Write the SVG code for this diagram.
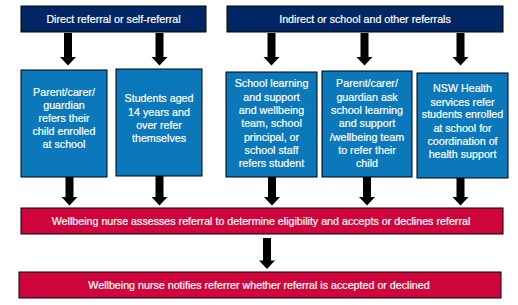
<svg xmlns="http://www.w3.org/2000/svg" width="518" height="305" viewBox="0 0 518 305">
<style>
.hdr{fill:#002664;stroke:#000;stroke-width:1}
.box{fill:#0a78ba;stroke:#000;stroke-width:1}
.red{fill:#d0043c;stroke:#000;stroke-width:1}
text{font-family:"Liberation Sans",Arial,sans-serif;fill:#fff;stroke:#fff;stroke-width:0.2;text-anchor:middle;font-size:10.7px}
.arr{fill:#000}
</style>
<rect width="518" height="305" fill="#fff"/>
<g id="h1"><rect class="hdr" x="21" y="6" width="185" height="26"/><text x="113.5" y="23">Direct referral or self-referral</text></g>
<g id="h2"><rect class="hdr" x="227" y="6" width="276" height="26"/><text x="365" y="23">Indirect or school and other referrals</text></g>
<g id="b1"><rect class="box" x="21" y="70" width="86" height="107"/>
<text x="64" y="96">Parent/carer/</text><text x="64" y="109">guardian</text><text x="64" y="122">refers their</text><text x="64" y="135">child enrolled</text><text x="64" y="148">at school</text></g>
<g id="b2"><rect class="box" x="116" y="69" width="86" height="107"/>
<text x="159" y="102">Students aged</text><text x="159" y="115.5">14 years and</text><text x="159" y="129">over refer</text><text x="159" y="142">themselves</text></g>
<g id="b3"><rect class="box" x="226" y="72" width="91" height="105"/>
<text x="271.5" y="87">School learning</text><text x="271.5" y="100.5">and support</text><text x="271.5" y="114">and wellbeing</text><text x="271.5" y="127">team, school</text><text x="271.5" y="140.5">principal, or</text><text x="271.5" y="154">school staff</text><text x="271.5" y="167">refers student</text></g>
<g id="b4"><rect class="box" x="322" y="71" width="90" height="106"/>
<text x="367" y="87">Parent/carer/</text><text x="367" y="100.5">guardian ask</text><text x="367" y="114">school learning</text><text x="367" y="127">and support</text><text x="367" y="140.5">/wellbeing team</text><text x="367" y="154">to refer their</text><text x="367" y="167">child</text></g>
<g id="b5"><rect class="box" x="417" y="73" width="91" height="105"/>
<text x="462.5" y="92">NSW Health</text><text x="462.5" y="105.5">services refer</text><text x="462.5" y="118">students enrolled</text><text x="462.5" y="131.5">at school for</text><text x="462.5" y="145">coordination of</text><text x="462.5" y="158">health support</text></g>
<g id="r1"><rect class="red" x="21" y="208" width="482" height="26"/><text x="261" y="225">Wellbeing nurse assesses referral to determine eligibility and accepts or declines referral</text></g>
<g id="r2"><rect class="red" x="19" y="272" width="482" height="26"/><text x="259" y="289">Wellbeing nurse notifies referrer whether referral is accepted or declined</text></g>
<g id="connectors" class="arr">
<path d="M64,33 v24 h-4 l8,8.5 l8,-8.5 h-4 v-24 z"/>
<path d="M155.5,33 v24 h-4 l8,8.5 l8,-8.5 h-4 v-24 z"/>
<path d="M267.5,33 v24 h-4 l8,8.5 l8,-8.5 h-4 v-24 z"/>
<path d="M360.5,33 v24 h-4 l8,8.5 l8,-8.5 h-4 v-24 z"/>
<path d="M456.5,33 v24 h-4 l8,8.5 l8,-8.5 h-4 v-24 z"/>
<path d="M65.5,177 v20 h-4 l8,8.5 l8,-8.5 h-4 v-20 z"/>
<path d="M155.5,176 v21 h-4 l8,8.5 l8,-8.5 h-4 v-21 z"/>
<path d="M268,177 v20 h-4 l8,8.5 l8,-8.5 h-4 v-20 z"/>
<path d="M363,177 v20 h-4 l8,8.5 l8,-8.5 h-4 v-20 z"/>
<path d="M456.5,178 v19 h-4 l8,8.5 l8,-8.5 h-4 v-19 z"/>
<path d="M263,238 v22.5 h-4 l8,8.5 l8,-8.5 h-4 v-22.5 z"/>
</g>
</svg>
